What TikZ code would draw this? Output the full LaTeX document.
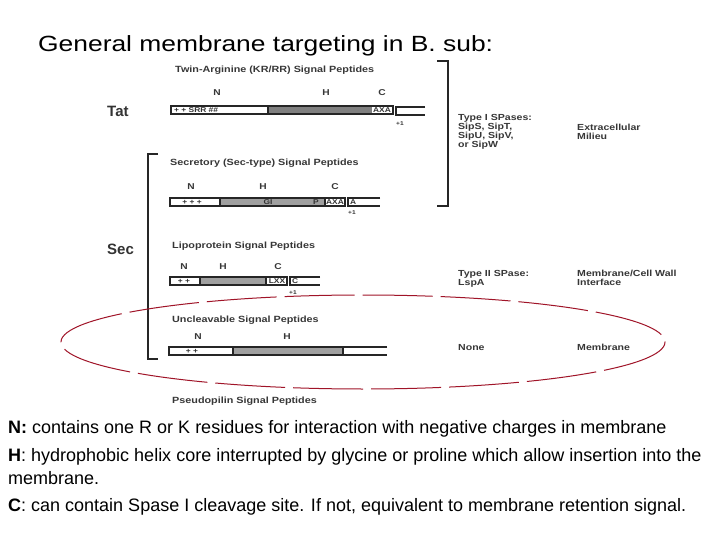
\documentclass[tikz,border=0pt]{standalone}
\usepackage{fontspec}
\setmainfont{Liberation Sans}
\newfontfamily\figfont[FakeStretch=1.2]{Liberation Sans}
\usepackage{graphicx}
\definecolor{ellred}{RGB}{160,20,40}
\definecolor{figtext}{RGB}{55,55,55}
\definecolor{tatgray}{RGB}{128,128,128}
\definecolor{secgray}{RGB}{160,160,160}
\begin{document}
\begin{tikzpicture}[x=1pt,y=-1pt,
  figlab/.style={font=\figfont\fontsize{9}{9}\selectfont\bfseries, text=figtext, inner sep=0pt, anchor=west},
  rightlab/.style={font=\figfont\fontsize{8.8}{9.2}\selectfont\bfseries, text=figtext, inner sep=0pt, anchor=north west, align=left},
  region/.style={font=\figfont\fontsize{8.5}{8.5}\selectfont\bfseries, text=figtext, inner sep=0pt},
  inbar/.style={font=\figfont\fontsize{7}{7}\selectfont\bfseries, text=black!80, inner sep=0pt},
  plusone/.style={font=\figfont\fontsize{5.5}{5.5}\selectfont\bfseries, text=black!80, inner sep=0pt},
  sysname/.style={font=\fontsize{15}{15}\selectfont\bfseries, text=black!80, inner sep=0pt, anchor=west},
  bar/.style={draw=black!85, line width=1.3pt},
  brk/.style={draw=black!85, line width=1.8pt},
  body/.style={font=\fontsize{18}{18}\selectfont, inner sep=0pt, anchor=base west}]
\useasboundingbox (0,0) rectangle (720,540);
\fill[white] (0,0) rectangle (720,540);

% title
\node[anchor=base west, inner sep=0pt, font=\fontsize{22}{22}\selectfont] (title) at (38,52) {\scalebox{1.2}[1]{General membrane targeting in B. sub:}};

% system labels
\node[sysname] (tat) at (107,111) {Tat};
\node[sysname] (sec) at (107,249) {Sec};

% brackets
\draw[brk] (437,61) -- (448,61) -- (448,206) -- (437,206);
\draw[brk] (158,154) -- (148,154) -- (148,359) -- (158,359);

% ---- Tat ----
\node[figlab] (t1) at (175,70) {Twin-Arginine (KR/RR) Signal Peptides};
\node[region] (tN) at (217,93) {N};
\node[region] (tH) at (326,93) {H};
\node[region] (tC) at (382,93) {C};
\fill[white] (171,106) rectangle (268,114);
\fill[tatgray] (268,106) rectangle (372,114);
\draw[bar] (171,106) rectangle (393,114);
\draw[bar] (268,106) -- (268,114);
\node[inbar, anchor=west] (tplus) at (174,110) {+ + SRR \#\#};
\node[inbar] (taxa) at (382,110) {AXA};
\draw[bar] (425,107) -- (396,107) -- (396,115) -- (425,115);
\node[plusone] (t1p) at (400,124) {+1};

% ---- Secretory ----
\node[figlab] (s1) at (170,163) {Secretory (Sec-type) Signal Peptides};
\node[region] (sN) at (191,187) {N};
\node[region] (sH) at (263,187) {H};
\node[region] (sC) at (335,187) {C};
\fill[secgray] (220,198) rectangle (325,206);
\draw[bar] (170,198) rectangle (345,206);
\draw[bar] (220,198) -- (220,206);
\draw[bar] (325,198) -- (325,206);
\node[inbar] (splus) at (192,202) {+ + +};
\node[inbar] (sgi) at (268,202) {GI};
\node[inbar] (sp) at (316,202) {P};
\node[inbar] (saxa) at (335,202) {AXA};
\draw[bar] (380,198) -- (348,198) -- (348,206) -- (380,206);
\node[inbar, anchor=west] (sa) at (350,202) {A};
\node[plusone] (s1p) at (352,213) {+1};

% ---- Lipoprotein ----
\node[figlab] (l1) at (172,246) {Lipoprotein Signal Peptides};
\node[region] (lN) at (184,267) {N};
\node[region] (lH) at (223,267) {H};
\node[region] (lC) at (278,267) {C};
\fill[secgray] (200,277) rectangle (266,285);
\draw[bar] (170,277) rectangle (287,285);
\draw[bar] (200,277) -- (200,285);
\draw[bar] (266,277) -- (266,285);
\node[inbar] (lplus) at (184,281) {+ +};
\node[inbar] (llxx) at (277,281) {LXX};
\draw[bar] (320,277) -- (290,277) -- (290,285) -- (320,285);
\node[inbar, anchor=west] (lc) at (292,281) {C};
\node[plusone] (l1p) at (293,293) {+1};

% ---- Uncleavable ----
\node[figlab] (u1) at (172,320) {Uncleavable Signal Peptides};
\node[region] (uN) at (198,337) {N};
\node[region] (uH) at (287,337) {H};
\fill[secgray] (233,347) rectangle (343,355);
\draw[bar] (387,347) -- (169,347) -- (169,355) -- (387,355);
\draw[bar] (233,347) -- (233,355);
\draw[bar] (343,347) -- (343,355);
\node[inbar] (uplus) at (192,351) {+ +};

% ---- Pseudopilin ----
\node[figlab] (p1) at (172,401) {Pseudopilin Signal Peptides};

% right columns
\node[rightlab] (spase1) at (458,114) {Type I SPases:\\SipS, SipT,\\SipU, SipV,\\or SipW};
\node[rightlab] (milieu) at (577,124) {Extracellular\\Milieu};
\node[rightlab] (spase2) at (458,270) {Type II SPase:\\LspA};
\node[rightlab] (cellwall) at (577,270) {Membrane/Cell Wall\\Interface};
\node[rightlab] (none) at (458,344) {None};
\node[rightlab] (memb) at (577,344) {Membrane};

% red ellipse
\draw[ellred, line width=1pt, dash pattern=on 70pt off 8pt] (363,342) ellipse [x radius=302, y radius=47];

% bottom text
\node[body] (lineN) at (8,433) {\textbf{N:} contains one R or K residues for interaction with negative charges in membrane};
\node[body] (lineH) at (8,461) {\textbf{H}: hydrophobic helix core interrupted by glycine or proline which allow insertion into the};
\node[body] (lineH2) at (8,484) {membrane.};
\node[body] (lineC) at (8,511) {\textbf{C}: can contain Spase I cleavage site. If not, equivalent to membrane retention signal.};
\end{tikzpicture}
\end{document}
